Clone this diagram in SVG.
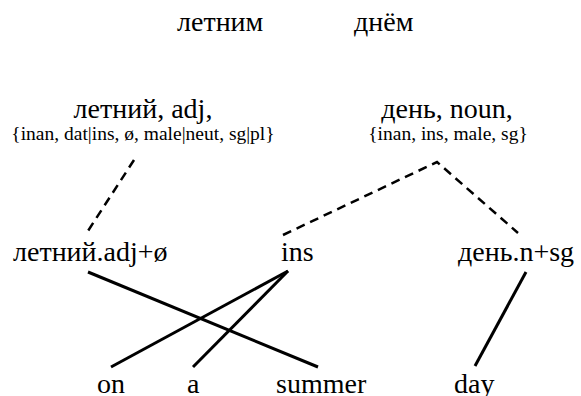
<svg xmlns="http://www.w3.org/2000/svg" width="581" height="396" viewBox="0 0 581 396" font-family="Liberation Serif, Times New Roman, DejaVu Serif, Noto Serif, serif">
<style>
text{font-family:"Liberation Serif","Times New Roman","DejaVu Serif","Noto Serif",serif;fill:#000}
.big{font-size:28px}
.small{font-size:19.5px}
.solid{stroke:#000;stroke-width:3;fill:none}
.dash{stroke:#000;stroke-width:2.5;fill:none;stroke-dasharray:9,6}
</style>
<rect width="581" height="396" fill="#fff"/>
<g id="surface">
<text class="big" x="177" y="31">летним</text>
<text class="big" x="354" y="31">днём</text>
</g>
<g id="lemma-letniy">
<text class="big" x="143" y="118" text-anchor="middle">летний, adj,</text>
<text class="small" x="143" y="140" text-anchor="middle">{inan, dat|ins, ø, male|neut, sg|pl}</text>
</g>
<g id="lemma-den">
<text class="big" x="447" y="118" text-anchor="middle">день, noun,</text>
<text class="small" x="448" y="140" text-anchor="middle">{inan, ins, male, sg}</text>
</g>
<g id="morph-letniy"><text class="big" x="13" y="261">летний.adj+ø</text></g>
<g id="morph-ins"><text class="big" x="281" y="261">ins</text></g>
<g id="morph-den"><text class="big" x="458" y="261">день.n+sg</text></g>
<g id="word-on"><text class="big" x="97" y="393">on</text></g>
<g id="word-a"><text class="big" x="187" y="393">a</text></g>
<g id="word-summer"><text class="big" x="276" y="393">summer</text></g>
<g id="word-day"><text class="big" x="454" y="393">day</text></g>
<g id="connectors">
<path class="dash" d="M134,160 L86,234"/>
<path class="dash" d="M283,235 L437,162 L518,233"/>
<path class="solid" d="M88,272 L318,367"/>
<path class="solid" d="M288,271 L111,367"/>
<path class="solid" d="M288,271 L193,367"/>
<path class="solid" d="M526,272 L475,366"/>
</g>
</svg>
